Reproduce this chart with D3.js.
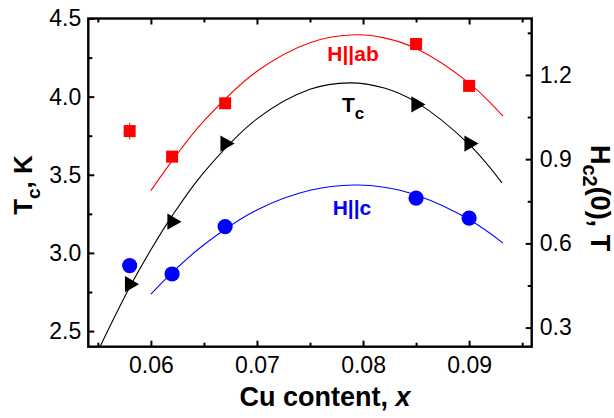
<!DOCTYPE html>
<html>
<head>
<meta charset="utf-8">
<script src="https://cdn.jsdelivr.net/npm/d3@7"></script>
<style>
  html, body { margin: 0; padding: 0; background: #fff; }
  svg { display: block; font-family: "Liberation Sans", Arial, sans-serif; }
</style>
</head>
<body>
<div id="chart"></div>
<script>
// measured points (Cu content x)
const xPts = [0.058, 0.062, 0.067, 0.085, 0.090];
const tcPts = [2.80, 3.20, 3.70, 3.95, 3.70];          // Tc, K (left axis)
const habPts = [1.00, 0.909, 1.099, 1.31, 1.161];      // Hc2(0) H||ab, T (right axis)
const habErr = [0.03, 0, 0, 0, 0];
const hcPts = [0.521, 0.491, 0.660, 0.761, 0.690];     // Hc2(0) H||c, T (right axis)

// fit curves
const tcFitX = [0.0552, 0.058, 0.060, 0.062, 0.065, 0.070, 0.075, 0.0787, 0.082, 0.085, 0.090, 0.0931];
const tcFitY = [2.40, 2.78, 3.02, 3.237, 3.516, 3.858, 4.047, 4.088, 4.055, 3.965, 3.694, 3.448];
const habFitX = [0.060, 0.062, 0.065, 0.070, 0.075, 0.0793, 0.082, 0.085, 0.090, 0.0932];
const habFitY = [0.788, 0.894, 1.036, 1.213, 1.315, 1.343, 1.332, 1.294, 1.171, 1.053];
const hcFitX = [0.060, 0.062, 0.065, 0.070, 0.075, 0.0792, 0.082, 0.085, 0.090, 0.0932];
const hcFitY = [0.419, 0.496, 0.595, 0.719, 0.789, 0.808, 0.800, 0.772, 0.685, 0.601];

const xMajor = [0.06, 0.07, 0.08, 0.09];
const xMinor = [0.055, 0.065, 0.075, 0.085, 0.095];
const yLMajor = [2.5, 3.0, 3.5, 4.0, 4.5];
const yLMinor = [2.75, 3.25, 3.75, 4.25];
const yRMajor = [0.3, 0.6, 0.9, 1.2];
const yRMinor = [0.45, 0.75, 1.05, 1.35];

const W = 614, H = 418;
const margin = { top: 18.5, right: 82.3, bottom: 71.3, left: 88.3 };
const RED = "#ff0000", BLUE = "#0000ff", BLACK = "#000000";

const svg = d3.select("#chart").append("svg")
  .attr("width", W)
  .attr("height", H);

const x = d3.scaleLinear().domain([0.0541, 0.0959]).range([margin.left, W - margin.right]);
const yL = d3.scaleLinear().domain([2.4, 4.5]).range([H - margin.bottom, margin.top]);
const yR = d3.scaleLinear().domain([0.232, 1.401]).range([H - margin.bottom, margin.top]);

function styleAxis(g, size) {
  g.select(".domain").remove();
  g.selectAll("line").attr("stroke", BLACK).attr("stroke-width", 2);
  g.selectAll("text").attr("fill", BLACK).style("font-size", size + "px");
  g.attr("font-family", null);
}

const plotB = H - margin.bottom, plotT = margin.top;
const plotL = margin.left, plotR = W - margin.right;

// bottom axis
svg.append("g").attr("transform", `translate(0,${plotB})`)
  .call(d3.axisBottom(x).tickValues(xMajor).tickSize(-6).tickPadding(10).tickFormat(d3.format(".2f")))
  .call((g) => styleAxis(g, 23));
svg.append("g").attr("transform", `translate(0,${plotB})`)
  .call(d3.axisBottom(x).tickValues(xMinor).tickSize(-4).tickFormat(""))
  .call((g) => styleAxis(g, 23));
// top axis
svg.append("g").attr("transform", `translate(0,${plotT})`)
  .call(d3.axisTop(x).tickValues(xMajor).tickSize(-6).tickFormat(""))
  .call((g) => styleAxis(g, 23));
svg.append("g").attr("transform", `translate(0,${plotT})`)
  .call(d3.axisTop(x).tickValues(xMinor).tickSize(-4).tickFormat(""))
  .call((g) => styleAxis(g, 23));
// left axis
svg.append("g").attr("transform", `translate(${plotL},0)`)
  .call(d3.axisLeft(yL).tickValues(yLMajor).tickSize(-6).tickPadding(7).tickFormat(d3.format(".1f")))
  .call((g) => styleAxis(g, 23));
svg.append("g").attr("transform", `translate(${plotL},0)`)
  .call(d3.axisLeft(yL).tickValues(yLMinor).tickSize(-4).tickFormat(""))
  .call((g) => styleAxis(g, 23));
// right axis
svg.append("g").attr("transform", `translate(${plotR},0)`)
  .call(d3.axisRight(yR).tickValues(yRMajor).tickSize(-6).tickPadding(8).tickFormat(d3.format(".1f")))
  .call((g) => styleAxis(g, 23));
svg.append("g").attr("transform", `translate(${plotR},0)`)
  .call(d3.axisRight(yR).tickValues(yRMinor).tickSize(-4).tickFormat(""))
  .call((g) => styleAxis(g, 23));

// frame
svg.append("rect")
  .attr("x", plotL).attr("y", plotT)
  .attr("width", plotR - plotL).attr("height", plotB - plotT)
  .attr("fill", "none").attr("stroke", BLACK).attr("stroke-width", 2.4);

// fit curves
function drawFit(xs, ys, yScale, color) {
  const line = d3.line()
    .x((d, i) => x(xs[i]))
    .y((d) => yScale(d))
    .curve(d3.curveCatmullRom);
  svg.append("path")
    .attr("d", line(ys))
    .attr("fill", "none")
    .attr("stroke", color)
    .attr("stroke-width", 1.1);
}
drawFit(habFitX, habFitY, yR, RED);
drawFit(tcFitX, tcFitY, yL, BLACK);
drawFit(hcFitX, hcFitY, yR, BLUE);

// error bars (H||ab)
svg.append("g").selectAll("line")
  .data(habPts.map((v, i) => ({ x: xPts[i], v, e: habErr[i] })).filter((d) => d.e > 0))
  .join("line")
  .attr("x1", (d) => x(d.x)).attr("x2", (d) => x(d.x))
  .attr("y1", (d) => yR(d.v - d.e)).attr("y2", (d) => yR(d.v + d.e))
  .attr("stroke", RED).attr("stroke-width", 1);

// markers
svg.append("g").selectAll("path")
  .data(habPts)
  .join("path")
  .attr("d", d3.symbol(d3.symbolSquare, 144))
  .attr("transform", (d, i) => `translate(${x(xPts[i])},${yR(d)})`)
  .attr("fill", RED);

svg.append("g").selectAll("path")
  .data(tcPts)
  .join("path")
  .attr("d", d3.symbol(d3.symbolTriangle, 115))
  .attr("transform", (d, i) => `translate(${x(xPts[i])},${yL(d)}) rotate(90)`)
  .attr("fill", BLACK);

svg.append("g").selectAll("circle")
  .data(hcPts)
  .join("circle")
  .attr("cx", (d, i) => x(xPts[i]))
  .attr("cy", (d) => yR(d))
  .attr("r", 7.6)
  .attr("fill", BLUE);

// series labels
svg.append("text")
  .attr("x", 353).attr("y", 61)
  .attr("text-anchor", "middle")
  .attr("fill", RED)
  .style("font-size", "21px").style("font-weight", "bold")
  .text("H||ab");

const tcLab = svg.append("text")
  .attr("x", 342).attr("y", 112)
  .attr("fill", BLACK)
  .style("font-size", "21px").style("font-weight", "bold");
tcLab.append("tspan").text("T");
tcLab.append("tspan").attr("dy", 7).style("font-size", "17px").text("c");

svg.append("text")
  .attr("x", 352).attr("y", 215)
  .attr("text-anchor", "middle")
  .attr("fill", BLUE)
  .style("font-size", "21px").style("font-weight", "bold")
  .text("H||c");

// axis titles
svg.append("text")
  .attr("x", 325).attr("y", 406)
  .attr("text-anchor", "middle")
  .style("font-size", "27px").style("font-weight", "bold")
  .call((t) => {
    t.append("tspan").text("Cu content, ");
    t.append("tspan").style("font-style", "italic").text("x");
  });

svg.append("text")
  .attr("transform", "translate(32,185) rotate(-90)")
  .attr("text-anchor", "middle")
  .style("font-size", "26px").style("font-weight", "bold")
  .call((t) => {
    t.append("tspan").text("T");
    t.append("tspan").attr("dy", 8).style("font-size", "19px").text("c");
    t.append("tspan").attr("dy", -8).text(", K");
  });

svg.append("text")
  .attr("transform", "translate(591,198) rotate(90)")
  .attr("text-anchor", "middle")
  .style("font-size", "27px").style("font-weight", "bold")
  .call((t) => {
    t.append("tspan").text("H");
    t.append("tspan").attr("dy", 8).style("font-size", "20px").text("c2");
    t.append("tspan").attr("dy", -8).text("(0), T");
  });
</script>
</body>
</html>
